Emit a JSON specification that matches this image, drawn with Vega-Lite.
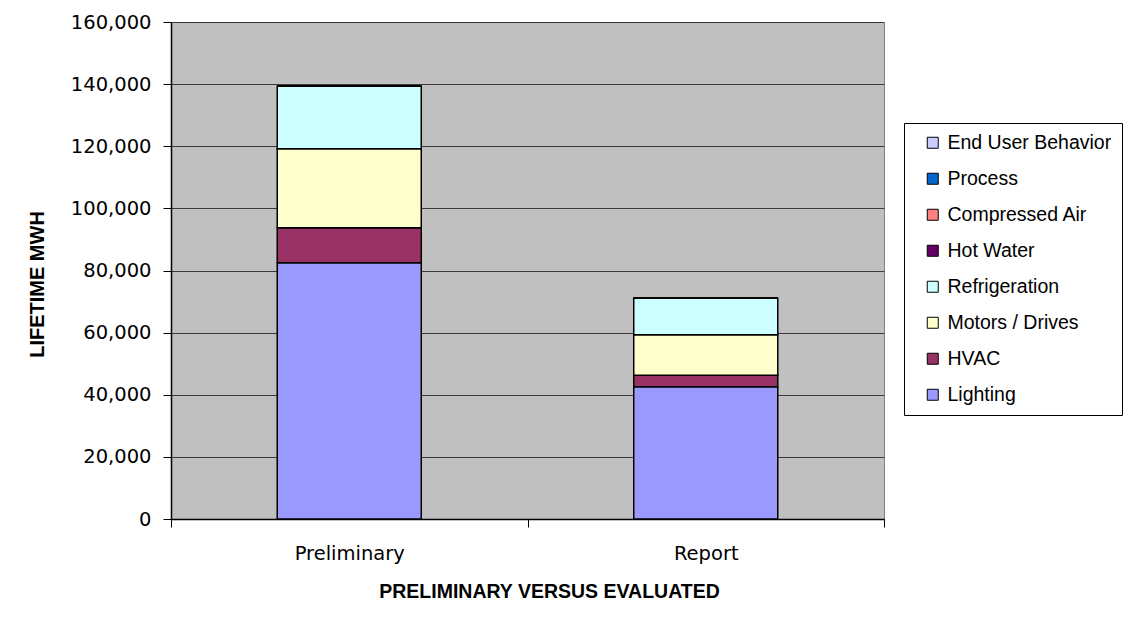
{
  "$schema": "https://vega.github.io/schema/vega-lite/v6.json",
  "width": 713,
  "height": 497,
  "autosize": {"type": "none"},
  "padding": {"left": 171, "top": 22, "right": 243, "bottom": 105},
  "background": "white",
  "config": {
    "view": {"fill": "#C0C0C0", "stroke": "#808080", "strokeWidth": 1},
    "font": "Liberation Sans"
  },
  "data": {
    "values": [
      {"phase": "Preliminary", "category": "Lighting", "mwh": 82500},
      {"phase": "Preliminary", "category": "HVAC", "mwh": 11300},
      {"phase": "Preliminary", "category": "Motors / Drives", "mwh": 25400},
      {"phase": "Preliminary", "category": "Refrigeration", "mwh": 20200},
      {"phase": "Preliminary", "category": "Hot Water", "mwh": 0},
      {"phase": "Preliminary", "category": "Compressed Air", "mwh": 0},
      {"phase": "Preliminary", "category": "Process", "mwh": 0},
      {"phase": "Preliminary", "category": "End User Behavior", "mwh": 0},
      {"phase": "Report", "category": "Lighting", "mwh": 42600},
      {"phase": "Report", "category": "HVAC", "mwh": 3700},
      {"phase": "Report", "category": "Motors / Drives", "mwh": 13000},
      {"phase": "Report", "category": "Refrigeration", "mwh": 11800},
      {"phase": "Report", "category": "Hot Water", "mwh": 0},
      {"phase": "Report", "category": "Compressed Air", "mwh": 0},
      {"phase": "Report", "category": "Process", "mwh": 0},
      {"phase": "Report", "category": "End User Behavior", "mwh": 0}
    ]
  },
  "transform": [
    {
      "calculate": "indexof(['Lighting','HVAC','Motors / Drives','Refrigeration','Hot Water','Compressed Air','Process','End User Behavior'], datum.category)",
      "as": "stackOrder"
    }
  ],
  "mark": {
    "type": "bar",
    "width": {"band": 0.404},
    "stroke": "black",
    "strokeWidth": 1.5
  },
  "encoding": {
    "x": {
      "field": "phase",
      "type": "nominal",
      "sort": ["Preliminary", "Report"],
      "scale": {"paddingInner": 0, "paddingOuter": 0},
      "axis": {
        "title": "PRELIMINARY VERSUS EVALUATED",
        "titleFont": "Liberation Sans",
        "titleFontSize": 19.5,
        "titleFontWeight": "bold",
        "titleColor": "black",
        "titleX": 378,
        "titleY": 78,
        "titleAlign": "center",
        "titleBaseline": "alphabetic",
        "labelFont": "DejaVu Sans",
        "labelFontSize": 19.5,
        "labelColor": "black",
        "labelAngle": 0,
        "labelBaseline": "alphabetic",
        "labelPadding": 32,
        "tickBand": "extent",
        "tickSize": 8,
        "tickColor": "black",
        "domainColor": "black",
        "domainWidth": 1.5
      }
    },
    "y": {
      "field": "mwh",
      "type": "quantitative",
      "aggregate": "sum",
      "stack": "zero",
      "scale": {"domain": [0, 160000], "nice": false},
      "axis": {
        "title": "LIFETIME MWH",
        "titleFont": "Liberation Sans",
        "titleFontSize": 20,
        "titleFontWeight": "bold",
        "titleColor": "black",
        "titleAngle": -90,
        "titleX": -128,
        "titleY": 262,
        "titleAlign": "center",
        "titleBaseline": "alphabetic",
        "values": [0, 20000, 40000, 60000, 80000, 100000, 120000, 140000, 160000],
        "format": ",d",
        "labelFont": "DejaVu Sans",
        "labelFontSize": 19.5,
        "labelColor": "black",
        "labelPadding": 12,
        "tickSize": 8,
        "tickColor": "black",
        "domainColor": "black",
        "domainWidth": 1.5,
        "grid": true,
        "gridColor": "#3a3a3a",
        "gridWidth": 1
      }
    },
    "color": {
      "field": "category",
      "type": "nominal",
      "scale": {
        "domain": ["End User Behavior", "Process", "Compressed Air", "Hot Water", "Refrigeration", "Motors / Drives", "HVAC", "Lighting"],
        "range": ["#CCCCFF", "#0066CC", "#FF8080", "#660066", "#CCFFFF", "#FFFFCC", "#993366", "#9999FF"]
      },
      "legend": {
        "title": null,
        "orient": "none",
        "legendX": 733,
        "legendY": 101,
        "padding": 10,
        "strokeColor": "black",
        "fillColor": "white",
        "symbolType": "square",
        "symbolSize": 121,
        "symbolStrokeColor": "black",
        "symbolStrokeWidth": 1,
        "symbolOffset": 9,
        "labelFont": "Liberation Sans",
        "labelFontSize": 19.5,
        "labelColor": "black",
        "labelOffset": 5,
        "labelLimit": 300,
        "rowPadding": 15
      }
    },
    "order": {"field": "stackOrder", "type": "quantitative"}
  }
}
